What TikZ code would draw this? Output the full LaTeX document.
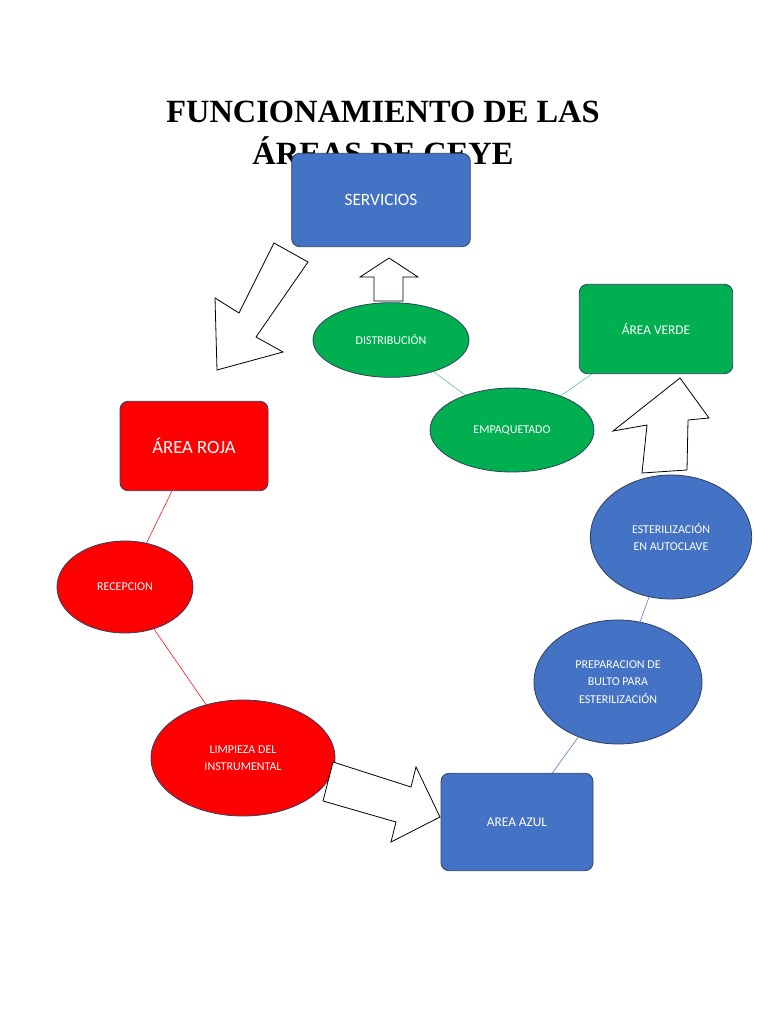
\documentclass[tikz,border=0pt]{standalone}
\usepackage{fontspec}
\setmainfont{Carlito}
\newfontfamily\titlefont{Liberation Serif}
\usetikzlibrary{shapes.geometric}
\definecolor{azul}{HTML}{4472C4}
\definecolor{verde}{HTML}{00B050}
\definecolor{rojo}{HTML}{FF0000}
\definecolor{borde}{HTML}{2F3F5F}
\begin{document}
\begin{tikzpicture}[x=0.75pt,y=-0.75pt]
	\tikzset{caja/.style={draw=borde,line width=0.6pt,rounded corners=6pt,text=white,font=\fontsize{10}{12}\selectfont,align=center,inner sep=0pt},
		ovalo/.style={ellipse,draw=borde,line width=0.6pt,text=white,font=\fontsize{9}{13}\selectfont,align=center,inner sep=0pt},
		flecha/.style={draw=black,fill=white,line width=0.6pt}}
	\useasboundingbox (0,0) rectangle (768,1024);
	\node[font=\titlefont\bfseries\fontsize{24.3}{31}\selectfont,align=center] (titulo) at (383,133) {FUNCIONAMIENTO DE LAS\\ÁREAS DE CEYE};
	% cajas
	\node[caja,fill=azul,minimum width=134pt,minimum height=70pt,font=\fontsize{13}{15}\selectfont] (servicios) at (381,200) {SERVICIOS};
	\node[caja,fill=verde,minimum width=115pt,minimum height=67pt] (verde) at (656,329) {ÁREA VERDE};
	\node[caja,fill=rojo,minimum width=111pt,minimum height=67pt,font=\fontsize{14}{16}\selectfont] (roja) at (194,446) {ÁREA ROJA};
	\node[caja,fill=azul,minimum width=114pt,minimum height=73pt] (azul) at (517,822) {AREA AZUL};
	% ovalos
	\node[ovalo,fill=verde,minimum width=117pt,minimum height=56pt] (distribucion) at (391,340) {DISTRIBUCIÓN};
	\node[ovalo,fill=verde,minimum width=123pt,minimum height=63pt] (empaquetado) at (512,430) {EMPAQUETADO};
	\node[ovalo,fill=azul,minimum width=121pt,minimum height=93pt] (autoclave) at (671,537) {ESTERILIZACIÓN\\EN AUTOCLAVE};
	\node[ovalo,fill=azul,minimum width=126pt,minimum height=93pt] (bulto) at (618,682) {PREPARACION DE\\BULTO PARA\\ESTERILIZACIÓN};
	\node[ovalo,fill=rojo,minimum width=102pt,minimum height=69pt] (recepcion) at (125,587) {RECEPCION};
	\node[ovalo,fill=rojo,minimum width=138pt,minimum height=87pt] (limpieza) at (243,758) {LIMPIEZA DEL\\INSTRUMENTAL};
	% conectores
	\draw[verde!70] (distribucion) -- (empaquetado);
	\draw[verde!70] (empaquetado) -- (verde);
	\draw[rojo] (roja) -- (recepcion);
	\draw[rojo] (recepcion) -- (limpieza);
	\draw[azul] (azul) -- (bulto);
	\draw[azul] (bulto) -- (autoclave);
	% flechas
	\draw[flecha] (374,301) -- (374,277) -- (360,277) -- (389,258) -- (418,277) -- (403,277) -- (403,301) -- cycle;
	\draw[flecha] (642,473) -- (647,425) -- (613,431) -- (680,378) -- (709,418) -- (688,420) -- (687,470) -- cycle;
	\draw[flecha] (274,243) -- (308,262) -- (256,337) -- (283,352) -- (217,370) -- (215,298) -- (239,313) -- cycle;
	\draw[flecha] (333,762) -- (411,787) -- (416,767) -- (440,817) -- (391,842) -- (396,822) -- (323,801) -- cycle;
\end{tikzpicture}
\end{document}
